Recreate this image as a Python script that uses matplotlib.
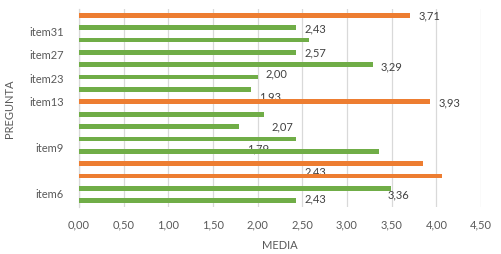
import matplotlib
matplotlib.use("Agg")
import matplotlib.pyplot as plt

# bars listed from top to bottom
valores = [3.71, 2.43, 2.57, 2.43, 3.29, 2.00, 1.93, 3.93,
           2.07, 1.79, 2.43, 3.36, 3.85, 4.06, 3.49, 2.43]
es_naranja = [1, 0, 0, 0, 0, 0, 0, 1, 0, 0, 0, 0, 1, 1, 0, 0]

# category labels shown on the axis and where they sit (in bar slots)
preguntas = ["item31", "item27", "item23", "item13", "item9", "item6"]
pos_preguntas = [1.25, 3.1, 5.0, 6.9, 10.6, 14.3]

# data labels: text, value it is anchored to, slot position
etiquetas = ["3,71", "2,43", "2,57", "3,29", "2,00", "1,93",
             "3,93", "2,07", "1,79", "2,43", "3,36", "2,43"]
anclas = [3.71, 2.43, 2.43, 3.29, 2.00, 1.93, 3.93, 2.07, 1.79, 2.43, 3.36, 2.43]
pos_etiquetas = [0, 1.05, 2.93, 4.09, 4.65, 6.5, 7.0, 8.93, 10.7, 12.56, 14.44, 14.78]

NARANJA = "#ED7D31"
VERDE = "#70AD47"
GRIS = "#595959"

plt.rcParams["font.family"] = ["Lato", "DejaVu Sans"]

fig = plt.figure(figsize=(5.01, 2.55), dpi=100)
ax = fig.add_axes([79 / 501, 1 - 208 / 255, 402 / 501, 198 / 255])

y = list(range(len(valores)))
colores = [NARANJA if n else VERDE for n in es_naranja]
ax.barh(y, valores, height=0.38, color=colores, zorder=3)

for txt, xv, yp in zip(etiquetas, anclas, pos_etiquetas):
    ax.text(xv + 0.09, yp, txt, ha="left", va="center", fontsize=8,
            color="#404040", zorder=2)

ax.set_xlim(0, 4.5)
ax.set_ylim(15.5, -0.5)
ax.set_xticks([i * 0.5 for i in range(10)])
ax.set_xticklabels([f"{i * 0.5:.2f}".replace(".", ",") for i in range(10)])
ax.set_yticks(pos_preguntas)
ax.set_yticklabels(preguntas)

ax.tick_params(axis="both", length=0, labelsize=8, colors=GRIS)
ax.tick_params(axis="y", pad=11)
ax.tick_params(axis="x", pad=8)
ax.grid(axis="x", color="#D9D9D9", linewidth=0.9, zorder=0)
for s in ["top", "right", "bottom"]:
    ax.spines[s].set_visible(False)
ax.spines["left"].set_color("#D9D9D9")
ax.spines["left"].set_linewidth(0.9)

ax.set_xlabel("MEDIA", fontsize=8, color=GRIS, labelpad=7)
ax.set_ylabel("PREGUNTA", fontsize=8, color=GRIS)
ax.yaxis.set_label_coords(-0.158, 0.5)

fig.savefig("out.png", dpi=100)
